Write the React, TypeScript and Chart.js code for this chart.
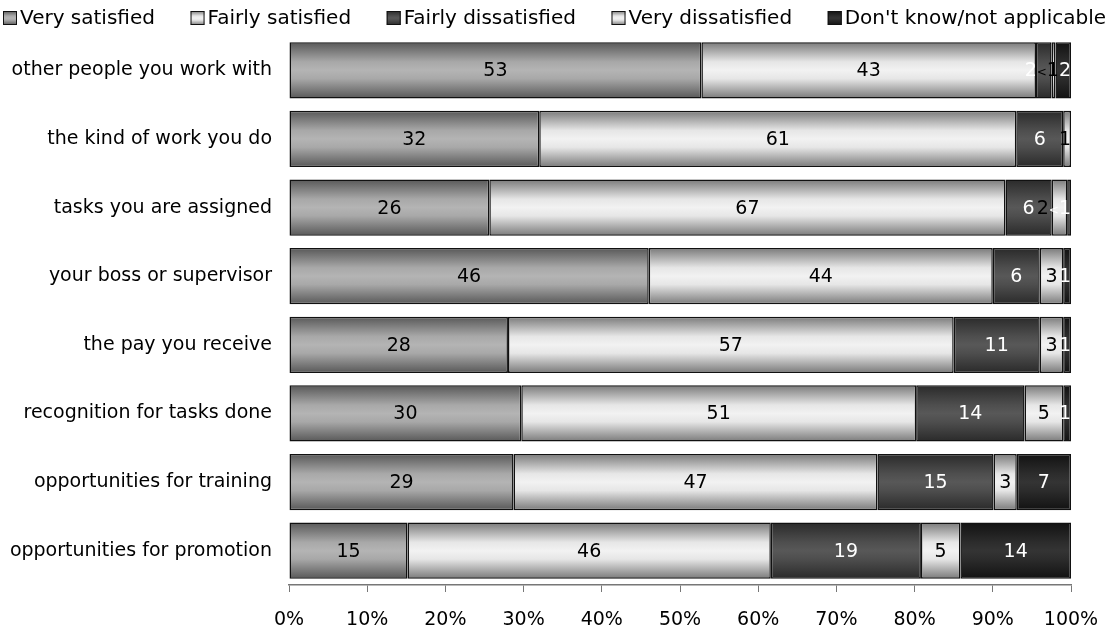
import React, { useEffect, useRef } from "react";
import { Chart, registerables } from "chart.js";

Chart.register(...registerables);

const categories = [
  "other people you work with",
  "the kind of work you do",
  "tasks you are assigned",
  "your boss or supervisor",
  "the pay you receive",
  "recognition for tasks done",
  "opportunities for training",
  "opportunities for promotion",
];

const seriesNames = [
  "Very satisfied",
  "Fairly satisfied",
  "Fairly dissatisfied",
  "Very dissatisfied",
  "Don't know/not applicable",
];

const verySatisfied = [53, 32, 26, 46, 28, 30, 29, 15];
const fairlySatisfied = [43, 61, 67, 44, 57, 51, 47, 46];
const fairlyDissatisfied = [2, 6, 6, 6, 11, 14, 15, 19];
const veryDissatisfied = [0.5, 1, 2, 3, 3, 5, 3, 5];
const dontKnow = [2, 0, 0.5, 1, 1, 1, 7, 14];

const xTicks = [0, 10, 20, 30, 40, 50, 60, 70, 80, 90, 100];

const FONT = "'DejaVu Sans', sans-serif";

// gradient stops: edge, mid-light, centre
const palettes = [
  ["#585858", "#a8a8a8", "#b4b4b4"],
  ["#7a7a7a", "#e6e6e6", "#f2f2f2"],
  ["#2a2a2a", "#4e4e4e", "#585858"],
  ["#7a7a7a", "#e6e6e6", "#f2f2f2"],
  ["#121212", "#2c2c2c", "#343434"],
];
const labelColors = ["#000", "#000", "#fff", "#000", "#fff"];

const raw = [verySatisfied, fairlySatisfied, fairlyDissatisfied, veryDissatisfied, dontKnow];
const rowSums = categories.map((_, i) => raw.reduce((s, arr) => s + arr[i], 0));
const fmt = (v: number) => (v > 0 && v < 1 ? "<1" : String(v));

const BAR_FRAC = 0.82;
const LABEL_SIZE = 19;
const SMALL_SIZE = 12;

function makeGradient(c: CanvasRenderingContext2D, top: number, bottom: number, p: string[]) {
  const g = c.createLinearGradient(0, top, 0, bottom);
  g.addColorStop(0, p[0]);
  g.addColorStop(0.35, p[1]);
  g.addColorStop(0.5, p[2]);
  g.addColorStop(0.65, p[1]);
  g.addColorStop(1, p[0]);
  return g;
}

function labelWidth(c: CanvasRenderingContext2D, text: string) {
  if (text.startsWith("<")) {
    c.font = `${SMALL_SIZE}px ${FONT}`;
    const a = c.measureText("<").width;
    c.font = `${LABEL_SIZE}px ${FONT}`;
    return a + c.measureText(text.slice(1)).width;
  }
  c.font = `${LABEL_SIZE}px ${FONT}`;
  return c.measureText(text).width;
}

export default function App() {
  const ref = useRef<HTMLCanvasElement>(null);
  useEffect(() => {
    if (!ref.current) return;
    const datasets = raw.map((arr, di) => ({
      label: seriesNames[di],
      data: arr.map((v, i) => (v / rowSums[i]) * 100),
      backgroundColor: (ctx: any) => {
        const chart = ctx.chart;
        const y = chart.scales?.y;
        if (!y || ctx.type !== "data") return palettes[di][2];
        const c = y.getPixelForValue(ctx.dataIndex);
        const half = ((y.height / categories.length) * BAR_FRAC) / 2;
        if (!isFinite(c) || !isFinite(half) || half <= 0) return palettes[di][2];
        return makeGradient(chart.ctx, c - half, c + half, palettes[di]);
      },
      borderColor: "#111",
      borderWidth: 1.5,
      borderSkipped: false,
      categoryPercentage: BAR_FRAC,
      barPercentage: 1,
    }));

    const labelPlugin = {
      id: "valueLabels",
      afterDatasetsDraw(chart: any) {
        const c = chart.ctx;
        const right = chart.chartArea.right;
        c.save();
        c.textBaseline = "middle";
        categories.forEach((_, i) => {
          const items: any[] = [];
          raw.forEach((arr, di) => {
            const v = arr[i];
            if (!v) return;
            const el = chart.getDatasetMeta(di).data[i];
            const text = fmt(v);
            items.push({ di, text, cx: (el.x + el.base) / 2, y: el.y, w: labelWidth(c, text) });
          });
          // push overlapping labels apart, keeping them inside the bar
          for (let iter = 0; iter < 30; iter++) {
            for (let k = 0; k < items.length - 1; k++) {
              const a = items[k], b = items[k + 1];
              const overlap = a.cx + a.w / 2 - (b.cx - b.w / 2);
              if (overlap > 0) {
                a.cx -= overlap / 2;
                b.cx += overlap / 2;
              }
            }
            const last = items[items.length - 1];
            if (last && last.cx + last.w / 2 > right) last.cx = right - last.w / 2;
          }
          items.forEach((it) => {
            c.fillStyle = labelColors[it.di];
            let x = it.cx - it.w / 2;
            c.textAlign = "left";
            if (it.text.startsWith("<")) {
              c.font = `${SMALL_SIZE}px ${FONT}`;
              c.fillText("<", x, it.y + 3);
              x += c.measureText("<").width;
              c.font = `${LABEL_SIZE}px ${FONT}`;
              c.fillText(it.text.slice(1), x, it.y + 1);
            } else {
              c.font = `${LABEL_SIZE}px ${FONT}`;
              c.fillText(it.text, x, it.y + 1);
            }
          });
        });
        c.restore();
      },
    };

    const legendPlugin = {
      id: "customLegend",
      afterDraw(chart: any) {
        const c = chart.ctx;
        c.save();
        c.font = `20px ${FONT}`;
        c.textBaseline = "middle";
        const box = 14;
        const gapBox = 3;
        const widths = seriesNames.map((n) => box + gapBox + c.measureText(n).width);
        const total = widths.reduce((a, b) => a + b, 0);
        const avail = chart.width - 6;
        const gap = (avail - total) / (seriesNames.length - 1);
        let x = 3;
        const yMid = 18;
        seriesNames.forEach((n, di) => {
          const g = makeGradient(c, yMid - box / 2, yMid + box / 2, palettes[di]);
          c.fillStyle = g;
          c.fillRect(x, yMid - box / 2, box, box);
          c.strokeStyle = "#111";
          c.lineWidth = 1;
          c.strokeRect(x + 0.5, yMid - box / 2 + 0.5, box - 1, box - 1);
          c.fillStyle = "#000";
          c.fillText(n, x + box + gapBox, yMid + 1);
          x += widths[di] + gap;
        });
        c.restore();
      },
    };

    const chart = new Chart(ref.current, {
      type: "bar",
      data: { labels: categories, datasets },
      options: {
        indexAxis: "y",
        animation: false,
        responsive: false,
        maintainAspectRatio: false,
        layout: { padding: { top: 36, right: 38, left: 0, bottom: 0 } },
        plugins: { legend: { display: false }, tooltip: { enabled: false } },
        scales: {
          x: {
            stacked: true,
            min: 0,
            max: 100,
            afterBuildTicks: (s: any) => {
              s.ticks = xTicks.map((v) => ({ value: v }));
            },
            afterFit: (s: any) => {
              s.height = 49;
              s.paddingLeft = 0;
              s.paddingRight = 0;
            },
            ticks: {
              callback: (v: any) => v + "%",
              color: "#000",
              font: { family: FONT, size: 19 },
              padding: 17,
              maxRotation: 0,
            },
            grid: { drawOnChartArea: false, drawTicks: true, tickLength: 7, color: "#777" },
            border: { display: true, color: "#777", width: 1.5 },
          },
          y: {
            stacked: true,
            afterFit: (s: any) => {
              s.width = 289;
            },
            ticks: {
              color: "#000",
              font: { family: FONT, size: 19 },
              padding: 9,
            },
            grid: { display: false },
            border: { display: false },
          },
        },
      },
      plugins: [labelPlugin, legendPlugin],
    });
    return () => chart.destroy();
  }, []);

  return (
    <div style={{ position: "fixed", left: 0, top: 0, width: 1109, height: 634, background: "#fff" }}>
      <canvas ref={ref} width={1109} height={634} style={{ width: 1109, height: 634, display: "block" }} />
    </div>
  );
}
